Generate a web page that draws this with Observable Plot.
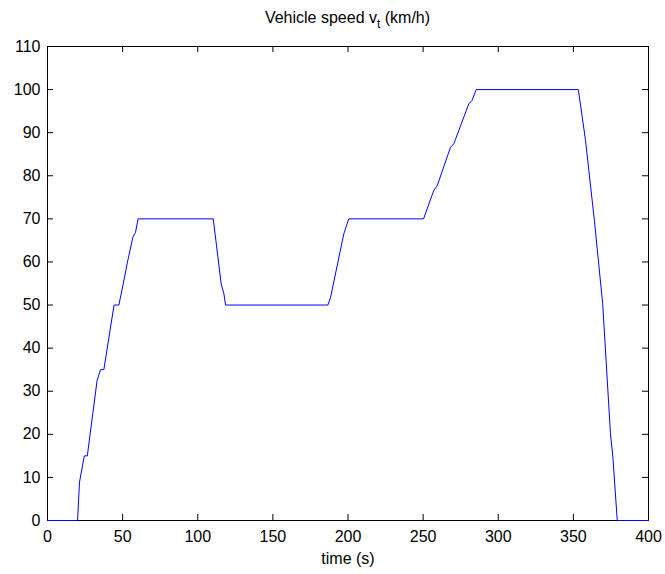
<!DOCTYPE html>
<html>
<head>
<meta charset="utf-8">
<script src="https://cdn.jsdelivr.net/npm/d3@7"></script>
<script src="https://cdn.jsdelivr.net/npm/@observablehq/plot@0.6"></script>
<style>
  html, body { margin: 0; padding: 0; background: #fff; }
  #wrap { position: relative; width: 665px; height: 574px; font-family: "Liberation Sans", Arial, sans-serif; }
  #title { position: absolute; left: 47px; width: 601px; top: 9px; text-align: center; font-size: 16px; color: #000; line-height: 18px; }
  #title sub { font-size: 12px; vertical-align: -5px; line-height: 0; }
</style>
</head>
<body>
<div id="wrap">
  <div id="title"></div>
</div>
<script>
const titleMain = "Vehicle speed v";
const titleSub = "t";
const titleUnit = " (km/h)";
const xLabel = "time (s)";
const timeS = [0, 20, 21.3, 24.5, 26.5, 33, 35.3, 37.5, 44.3, 47.5, 50.4, 53, 56.8, 58.6, 60.3,
  110.3, 115.6, 117.4, 118.5, 186.6, 188.4, 197.2, 200.5, 250.3, 257.1, 259.4, 268.2, 270.4,
  280.4, 282.6, 285.3, 353.3, 358.1, 360.3, 364, 369.5, 374.7, 376.3, 379.2, 400];
const speedKmh = [0, 0, 8.9, 15, 15, 32.5, 35, 35, 50, 50, 54.9, 59.6, 65.7, 66.9, 70,
  70, 54.9, 52.6, 50, 50, 51.8, 66.5, 70, 70, 76.6, 77.7, 86.6, 87.4,
  96.7, 97.5, 100, 100, 88.2, 81.2, 69.6, 50.3, 20.1, 14.7, 0, 0];
const xTicks = [0, 50, 100, 150, 200, 250, 300, 350, 400];
const yTicks = [0, 10, 20, 30, 40, 50, 60, 70, 80, 90, 100, 110];

const titleEl = document.getElementById("title");
titleEl.append(titleMain);
const sub = document.createElement("sub");
sub.textContent = titleSub;
titleEl.append(sub);
titleEl.append(titleUnit);

const W = 665, H = 574;
const mL = 47, mR = 17, mT = 46, mB = 54;
const fw = W - mL - mR, fh = H - mT - mB;
const tick = 6;

const data = timeS.map((t, i) => ({t, v: speedKmh[i]}));

const chart = Plot.plot({
  width: W,
  height: H,
  marginLeft: mL,
  marginRight: mR,
  marginTop: mT,
  marginBottom: mB,
  style: {fontFamily: "'Liberation Sans', Arial, sans-serif", fontSize: "16px", color: "#000", background: "#fff"},
  x: {domain: [0, 400]},
  y: {domain: [0, 110]},
  marks: [
    Plot.ruleX(xTicks, {x: d => d, insetTop: fh - tick, stroke: "#000"}),
    Plot.ruleX(xTicks, {x: d => d, insetBottom: fh - tick, stroke: "#000"}),
    Plot.ruleY(yTicks, {y: d => d, insetRight: fw - tick, stroke: "#000"}),
    Plot.ruleY(yTicks, {y: d => d, insetLeft: fw - tick, stroke: "#000"}),
    Plot.frame({stroke: "#000"}),
    Plot.axisX({ticks: xTicks, tickSize: 0, tickPadding: 10, label: null, fill: "#000"}),
    Plot.axisY({ticks: yTicks, tickSize: 0, tickPadding: 7, label: null, fill: "#000"}),
    Plot.text([xLabel], {frameAnchor: "bottom", text: d => d, dy: 43, fill: "#000", fontSize: 16}),
    Plot.line(data, {x: "t", y: "v", stroke: "#0000ff", strokeWidth: 1})
  ]
});
document.getElementById("wrap").appendChild(chart);
chart.style.position = "absolute";
chart.style.left = "0";
chart.style.top = "0";
titleEl.style.zIndex = "1";
</script>
</body>
</html>
